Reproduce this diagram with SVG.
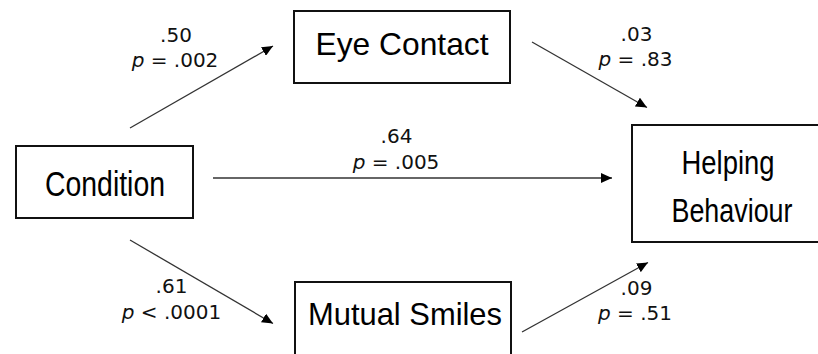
<svg xmlns="http://www.w3.org/2000/svg" width="818" height="354" viewBox="0 0 818 354">
  <style>
    .box { fill: #ffffff; stroke: #111111; stroke-width: 2; }
    .node-label { font-family: "Liberation Sans", Arial, sans-serif; font-size: 32px; fill: #000000; text-anchor: middle; }
    .node-label.tall { font-size: 35px; }
    .node-label.mid { font-size: 33px; }
    .edge { stroke: #333333; stroke-width: 1.3; fill: none; marker-end: url(#arrow); }
    .coef { font-family: "DejaVu Sans", sans-serif; font-size: 20px; fill: #111111; text-anchor: middle; }
    .coef .p { font-style: italic; }
  </style>
  <defs>
    <marker id="arrow" markerUnits="userSpaceOnUse" markerWidth="12" markerHeight="10" refX="11" refY="5" orient="auto">
      <path d="M0,0 L11,5 L0,10 Z" fill="#000000"/>
    </marker>
  </defs>

  <rect width="818" height="354" fill="#ffffff"/>

  <!-- connectors -->
  <g id="connectors">
    <line class="edge" x1="130" y1="128" x2="273" y2="46"/>
    <line class="edge" x1="532" y1="42" x2="647" y2="107.5"/>
    <line class="edge" x1="213" y1="178" x2="612" y2="178"/>
    <line class="edge" x1="130" y1="240" x2="273" y2="323.5"/>
    <line class="edge" x1="522" y1="332" x2="648" y2="262.5"/>
  </g>

  <!-- path coefficients -->
  <g id="coefficients">
    <text class="coef" x="176" y="42">.50</text>
    <text class="coef" x="175" y="67"><tspan class="p">p</tspan> = .002</text>
    <text class="coef" x="636.5" y="41">.03</text>
    <text class="coef" x="635.5" y="66"><tspan class="p">p</tspan> = .83</text>
    <text class="coef" x="396.5" y="143">.64</text>
    <text class="coef" x="396" y="169"><tspan class="p">p</tspan> = .005</text>
    <text class="coef" x="171.5" y="293">.61</text>
    <text class="coef" x="171.5" y="319"><tspan class="p">p</tspan> &lt; .0001</text>
    <text class="coef" x="636.5" y="294.5">.09</text>
    <text class="coef" x="635" y="320"><tspan class="p">p</tspan> = .51</text>
  </g>

  <!-- nodes -->
  <g id="condition">
    <rect class="box" x="16" y="146" width="177" height="72"/>
    <text class="node-label tall" x="105" y="196" textLength="120" lengthAdjust="spacingAndGlyphs">Condition</text>
  </g>
  <g id="eye-contact">
    <rect class="box" x="294" y="11" width="216" height="72"/>
    <text class="node-label" x="402" y="55" textLength="173" lengthAdjust="spacingAndGlyphs">Eye Contact</text>
  </g>
  <g id="mutual-smiles">
    <rect class="box" x="295" y="282" width="216" height="80"/>
    <text class="node-label" x="405" y="325" textLength="194" lengthAdjust="spacingAndGlyphs">Mutual Smiles</text>
  </g>
  <g id="helping-behaviour">
    <rect class="box" x="632" y="125" width="200" height="117"/>
    <text class="node-label mid" x="728" y="174" textLength="93" lengthAdjust="spacingAndGlyphs">Helping</text>
    <text class="node-label mid" x="732" y="222" textLength="121" lengthAdjust="spacingAndGlyphs">Behaviour</text>
  </g>
</svg>
